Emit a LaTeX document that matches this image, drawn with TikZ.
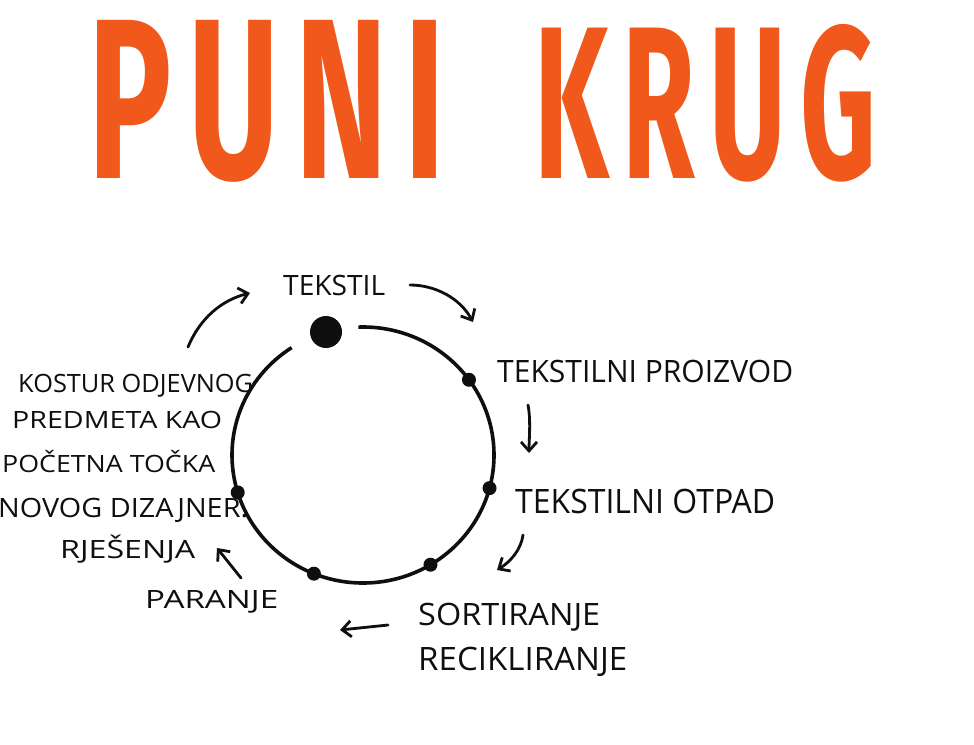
\documentclass[tikz,border=0pt]{standalone}
\usepackage{fontspec}
\setmainfont{Open Sans}
\newfontfamily\titlefont{Fira Sans}
\usetikzlibrary{arrows.meta}
\definecolor{titleorange}{RGB}{240,88,28}
\definecolor{ink}{RGB}{15,15,15}
% #1 target width, #2 cap height (pt), #3 text
\newcommand{\hw}[3]{{\fontsize{\fpeval{#2/0.714}pt}{\fpeval{#2/0.714}pt}\selectfont\resizebox{#1pt}{\height}{#3}}}
\newcommand{\tk}{\kern0.12em}
\begin{document}
\begin{tikzpicture}[x=1pt,y=-1pt,
  lbl/.style={anchor=base west,inner sep=0pt,text=ink},
  titleword/.style={anchor=north west,inner sep=0pt,text=titleorange,font=\titlefont\bfseries},
  bigdot/.style={circle,fill=ink,inner sep=0pt,minimum size=32pt},
  smalldot/.style={circle,fill=ink,inner sep=0pt,minimum size=14pt},
  ring/.style={line width=3.6pt,draw=ink},
  flow/.style={line width=2.8pt,draw=ink,line cap=round,-{Straight Barb[length=9pt,width=16pt,line width=2.8pt]}}]
\useasboundingbox[fill=white] (0,0) rectangle (974,744);

% title
\node[titleword] (t1) at (88,20) {\resizebox{357pt}{158pt}{P\tk U\tk N\tk I}};
\node[titleword] (t2) at (534,24) {\resizebox{342pt}{154pt}{K\tk R\tk U\tk G}};

% circle
\coordinate (c) at (363,455);
\draw[ring] (c) ++(-92:131 and 128) arc[start angle=-92,end angle=237,x radius=131,y radius=128];
\node[bigdot] (d0) at (326,332) {};
\node[smalldot] (d1) at ([shift={(-36:131 and 128)}]c) {};
\node[smalldot] (d2) at ([shift={(15:131 and 128)}]c) {};
\node[smalldot] (d3) at ([shift={(59:131 and 128)}]c) {};
\node[smalldot] (d4) at ([shift={(112:131 and 128)}]c) {};
\node[smalldot] (d5) at ([shift={(163:131 and 128)}]c) {};

% labels
\node[lbl] (tekstil) at (283,295) {\hw{102}{20}{TEKSTIL}};
\node[lbl] (proizvod) at (497,382) {\hw{296}{22}{TEKSTILNI PROIZVOD}};
\node[lbl] (otpad) at (515,513) {\hw{260}{24}{TEKSTILNI OTPAD}};
\node[lbl] (sort) at (418,625) {\hw{182}{22}{SORTIRANJE}};
\node[lbl] (recik) at (418,670) {\hw{209}{23}{RECIKLIRANJE}};
\node[lbl] (paranje) at (145,608) {\hw{133}{18}{PARANJE}};
\node[lbl] (k1) at (18,392) {\hw{235}{18}{KOSTUR ODJEVNOG}};
\node[lbl] (k2) at (12,428) {\hw{210}{17}{PREDMETA KAO}};
\node[lbl] (k3) at (2,472) {\hw{213}{17}{POČETNA TOČKA}};
\node[lbl] (k4) at (-2,517) {\hw{250}{19}{NOVOG DIZAJNER.}};
\node[lbl] (k5) at (60,558) {\hw{135}{18}{RJEŠENJA}};

% arrows
\coordinate (a1s) at (188,347); \coordinate (a1e) at (250,293);
\draw[flow] (a1s) .. controls (200,318) and (222,300) .. (a1e);
\coordinate (a2s) at (410,285); \coordinate (a2e) at (473,322);
\draw[flow] (a2s) .. controls (435,285) and (460,298) .. (a2e);
\coordinate (a3s) at (528,405); \coordinate (a3e) at (529,453);
\draw[flow] (a3s) .. controls (531,420) and (529,440) .. (a3e);
\coordinate (a4s) at (523,535); \coordinate (a4e) at (497,570);
\draw[flow] (a4s) .. controls (521,550) and (510,562) .. (a4e);
\coordinate (a5s) at (388,625); \coordinate (a5e) at (340,630);
\draw[flow] (a5s) -- (a5e);
\coordinate (a6s) at (241,578); \coordinate (a6e) at (217,548);
\draw[flow] (a6s) -- (a6e);
\end{tikzpicture}
\end{document}
